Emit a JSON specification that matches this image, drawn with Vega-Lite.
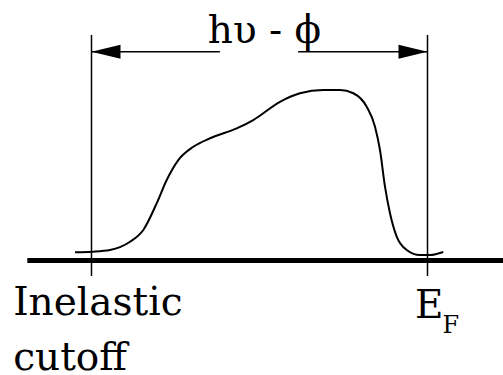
{
  "$schema": "https://vega.github.io/schema/vega-lite/v6.json",
  "width": 503,
  "height": 375,
  "padding": 0,
  "autosize": {"type": "none"},
  "background": "white",
  "config": {"view": {"stroke": null}, "text": {"font": "DejaVu Serif"}},
  "datasets": {
    "baseline": [{"x": -1.91, "x2": 12.25, "y": 0}],
    "markers": [
      {"x": 0, "y": -0.091, "y2": 1.323},
      {"x": 10, "y": -0.091, "y2": 1.323}
    ],
    "shafts": [
      {"x": 0, "x2": 3.82, "y": 1.225},
      {"x": 6.15, "x2": 10, "y": 1.225}
    ],
    "heads": [
      {"x": 0, "y": 1.225, "dir": "left"},
      {"x": 10, "y": 1.225, "dir": "right"}
    ],
    "spectrum": [
      {"x": -0.49, "y": 0.048},
      {"x": 0.006, "y": 0.052},
      {"x": 0.551, "y": 0.062},
      {"x": 1.146, "y": 0.11},
      {"x": 1.542, "y": 0.179},
      {"x": 1.94, "y": 0.335},
      {"x": 2.238, "y": 0.472},
      {"x": 2.583, "y": 0.589},
      {"x": 3.03, "y": 0.667},
      {"x": 3.527, "y": 0.717},
      {"x": 4.321, "y": 0.775},
      {"x": 4.815, "y": 0.824},
      {"x": 5.61, "y": 0.931},
      {"x": 6.205, "y": 0.981},
      {"x": 6.899, "y": 1.0},
      {"x": 7.396, "y": 1.0},
      {"x": 7.792, "y": 0.981},
      {"x": 8.19, "y": 0.902},
      {"x": 8.438, "y": 0.785},
      {"x": 8.586, "y": 0.648},
      {"x": 8.735, "y": 0.433},
      {"x": 8.884, "y": 0.277},
      {"x": 9.083, "y": 0.14},
      {"x": 9.381, "y": 0.062},
      {"x": 9.777, "y": 0.032},
      {"x": 10.074, "y": 0.032},
      {"x": 10.47, "y": 0.05}
    ],
    "title": [{"x": 5.149, "y": 1.273, "t": "hυ - ϕ"}],
    "fermi": [{"x": 9.63, "y": -0.339, "t": "E"}],
    "cutoffLabel": [
      {"x": -2.33, "y": -0.32, "t": "Inelastic"},
      {"x": -2.33, "y": -0.643, "t": "cutoff"}
    ],
    "subscript": [{"x": 10.45, "y": -0.425, "t": "F"}]
  },
  "encoding": {
    "x": {"field": "x", "type": "quantitative", "scale": {"domain": [-2.723, 12.247], "nice": false, "zero": false}, "axis": null},
    "y": {"field": "y", "type": "quantitative", "scale": {"domain": [-0.6716, 1.5279], "nice": false, "zero": false}, "axis": null}
  },
  "layer": [
    {
      "data": {"name": "baseline"},
      "mark": {"type": "rule", "color": "black", "strokeWidth": 5},
      "encoding": {"x2": {"field": "x2"}}
    },
    {
      "data": {"name": "markers"},
      "mark": {"type": "rule", "color": "black", "strokeWidth": 1.5},
      "encoding": {"y2": {"field": "y2"}}
    },
    {
      "data": {"name": "shafts"},
      "mark": {"type": "rule", "color": "black", "strokeWidth": 1.5},
      "encoding": {"x2": {"field": "x2"}}
    },
    {
      "data": {"name": "heads"},
      "mark": {"type": "point", "filled": true, "color": "black", "opacity": 1, "strokeWidth": 0, "size": 841},
      "encoding": {
        "shape": {
          "field": "dir",
          "type": "nominal",
          "scale": {"domain": ["left", "right"], "range": ["M0,0L2,-0.483L2,0.483Z", "M0,0L-2,-0.483L-2,0.483Z"]},
          "legend": null
        }
      }
    },
    {
      "data": {"name": "spectrum"},
      "mark": {"type": "line", "color": "black", "strokeWidth": 2, "interpolate": "monotone"},
      "encoding": {}
    },
    {
      "data": {"name": "title"},
      "mark": {"type": "text", "font": "DejaVu Serif", "fontSize": 39, "align": "center", "baseline": "alphabetic", "color": "black"},
      "encoding": {"text": {"field": "t"}}
    },
    {
      "data": {"name": "fermi"},
      "mark": {"type": "text", "font": "DejaVu Serif", "fontSize": 39, "align": "left", "baseline": "alphabetic", "color": "black"},
      "encoding": {"text": {"field": "t"}}
    },
    {
      "data": {"name": "cutoffLabel"},
      "mark": {"type": "text", "font": "DejaVu Serif", "fontSize": 39, "align": "left", "baseline": "alphabetic", "color": "black"},
      "encoding": {"text": {"field": "t"}}
    },
    {
      "data": {"name": "subscript"},
      "mark": {"type": "text", "font": "DejaVu Serif", "fontSize": 24, "align": "left", "baseline": "alphabetic", "color": "black"},
      "encoding": {"text": {"field": "t"}}
    }
  ]
}
